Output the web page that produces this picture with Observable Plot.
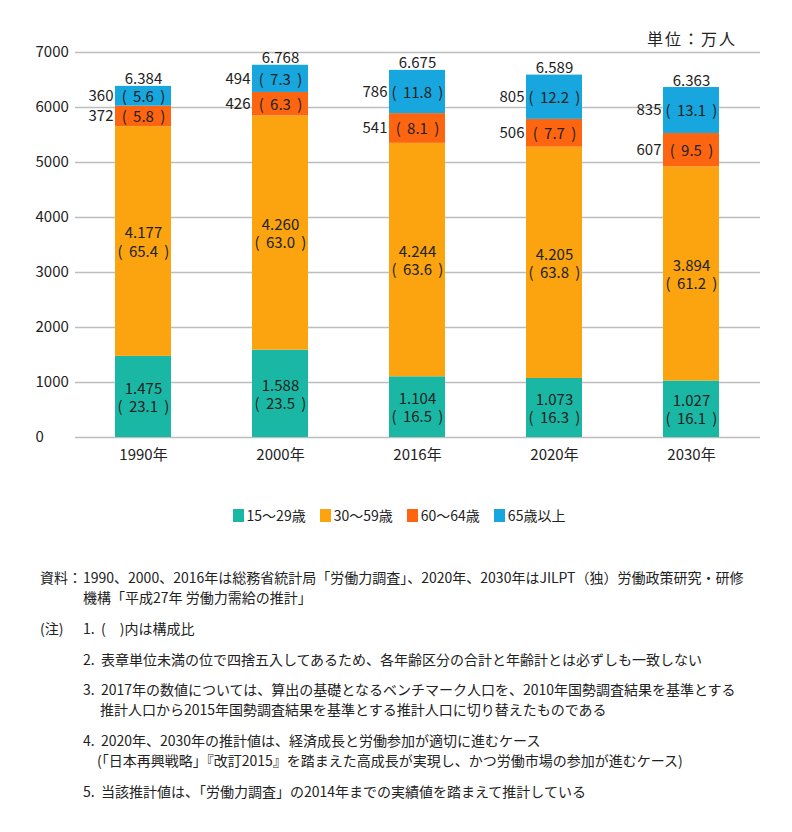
<!DOCTYPE html>
<html>
<head>
<meta charset="utf-8">
<script src="https://cdn.jsdelivr.net/npm/d3@7"></script>
<script src="https://cdn.jsdelivr.net/npm/@observablehq/plot@0.6"></script>
<style>
  body { margin: 0; background: #fff; font-family: "Noto Sans CJK JP", "Noto Sans", sans-serif; color: #222; }
  #wrap { position: relative; width: 792px; height: 832px; overflow: hidden; }
  #unit { position: absolute; right: 55px; top: 26px; font-size: 16px; letter-spacing: 2px; }
  #legend { position: absolute; top: 505px; left: 3px; width: 792px; display: flex; justify-content: center; gap: 14px; font-size: 14px; }
  #legend .item { display: flex; align-items: center; }
  #legend .sw { width: 11px; height: 13px; margin-right: 3px; }
  .note { position: absolute; font-size: 14px; line-height: 20px; white-space: pre; }
</style>
</head>
<body>
<div id="wrap">
  <div id="chart"></div>
  <div id="unit">単位：万人</div>
  <div id="legend"></div>
  <div id="notes"></div>
</div>
<script>
const years = ["1990年", "2000年", "2016年", "2020年", "2030年"];
const groups = ["15〜29歳", "30〜59歳", "60〜64歳", "65歳以上"];
const colors = ["#1ab8a4", "#fba40f", "#fd6511", "#17a6de"];

const v15_29 = [1475, 1588, 1104, 1073, 1027];
const v30_59 = [4177, 4260, 4244, 4205, 3894];
const v60_64 = [372, 426, 541, 506, 607];
const v65plus = [360, 494, 786, 805, 835];
const totals = [6384, 6768, 6675, 6589, 6363];

const p15_29 = [23.1, 23.5, 16.5, 16.3, 16.1];
const p30_59 = [65.4, 63.0, 63.6, 63.8, 61.2];
const p60_64 = [5.8, 6.3, 8.1, 7.7, 9.5];
const p65plus = [5.6, 7.3, 11.8, 12.2, 13.1];

const yTicks = [0, 1000, 2000, 3000, 4000, 5000, 6000, 7000];

const noteLines = [
  {label: "資料：", text: "1990、2000、2016年は総務省統計局「労働力調査」、2020年、2030年はJILPT（独）労働政策研究・研修"},
  {label: "", text: "機構「平成27年 労働力需給の推計」"},
  {label: "(注)", text: "1.  (\u3000)内は構成比"},
  {label: "", text: "2.  表章単位未満の位で四捨五入してあるため、各年齢区分の合計と年齢計とは必ずしも一致しない"},
  {label: "", text: "3.  2017年の数値については、算出の基礎となるベンチマーク人口を、2010年国勢調査結果を基準とする"},
  {label: "", text: "推計人口から2015年国勢調査結果を基準とする推計人口に切り替えたものである", indent: 100},
  {label: "", text: "4.  2020年、2030年の推計値は、経済成長と労働参加が適切に進むケース"},
  {label: "", text: "(「日本再興戦略」『改訂2015』を踏まえた高成長が実現し、かつ労働市場の参加が進むケース)", indent: 97},
  {label: "", text: "5.  当該推計値は、「労働力調査」の2014年までの実績値を踏まえて推計している"}
];

// build tidy rows
const valueSeries = [v15_29, v30_59, v60_64, v65plus];
const pctSeries = [p15_29, p30_59, p60_64, p65plus];
const rows = [];
years.forEach((yr, i) => {
  groups.forEach((g, j) => {
    rows.push({year: yr, group: g, gi: j, value: valueSeries[j][i], pct: pctSeries[j][i]});
  });
});
const totalRows = years.map((yr, i) => ({year: yr, total: totals[i]}));

const fmtNum = v => v >= 1000 ? Math.floor(v / 1000) + "." + String(v % 1000).padStart(3, "0") : String(v);
const fmtPct = p => "(\u2005\u2006" + p.toFixed(1) + "\u2005\u2006)";

const font = '"Noto Sans CJK JP", "Noto Sans", sans-serif';

const chart = Plot.plot({
  width: 792,
  height: 477,
  marginTop: 52,
  marginBottom: 40,
  marginLeft: 75,
  marginRight: 32,
  style: {fontFamily: font, fontSize: "15px", color: "#222", background: "#fff"},
  x: {domain: years, paddingInner: 0.59, paddingOuter: 0.29, label: null},
  y: {domain: [0, 7000], label: null},
  color: {domain: groups, range: colors},
  marks: [
    Plot.ruleY(yTicks, {stroke: "#bdbdbd", strokeWidth: 1.5}),
    Plot.barY(rows, {x: "year", y: "value", fill: "group"}),
    Plot.text(rows, Plot.stackY({
      x: "year", y: "value",
      text: d => d.gi < 2 ? fmtNum(d.value) + "\n" + fmtPct(d.pct) : fmtPct(d.pct),
      fontSize: 15, lineHeight: 1.22, fill: "#222"
    })),
    Plot.text(rows, Plot.stackY({
      x: "year", y: "value",
      text: d => d.gi >= 2 ? fmtNum(d.value) : null,
      textAnchor: "end", dx: -30, fontSize: 15, fill: "#222"
    })),
    Plot.text(totalRows, {x: "year", y: "total", text: d => fmtNum(d.total), lineAnchor: "bottom", dy: -2, fontSize: 15, fill: "#222"}),
    Plot.axisY({ticks: yTicks, tickSize: 0, tickPadding: 0, textAnchor: "start", dx: -40, fontSize: 15, tickFormat: d => String(d), label: null}),
    Plot.axisX({tickSize: 0, tickPadding: 12, fontSize: 15, label: null})
  ]
});
document.getElementById("chart").appendChild(chart);

// legend
const legend = document.getElementById("legend");
groups.forEach((g, j) => {
  const it = document.createElement("div");
  it.className = "item";
  const sw = document.createElement("span");
  sw.className = "sw";
  sw.style.background = colors[j];
  const tx = document.createElement("span");
  tx.textContent = g;
  it.appendChild(sw); it.appendChild(tx);
  legend.appendChild(it);
});

// notes
const tops = [567, 587, 618, 649, 679, 699, 730, 750, 781];
const notes = document.getElementById("notes");
noteLines.forEach((n, k) => {
  if (n.label) {
    const l = document.createElement("div");
    l.className = "note";
    l.style.left = "40px";
    l.style.top = tops[k] + "px";
    l.textContent = n.label;
    notes.appendChild(l);
  }
  const t = document.createElement("div");
  t.className = "note";
  t.style.left = (n.indent || 83) + "px";
  t.style.top = tops[k] + "px";
  t.textContent = n.text;
  notes.appendChild(t);
});
</script>
</body>
</html>
